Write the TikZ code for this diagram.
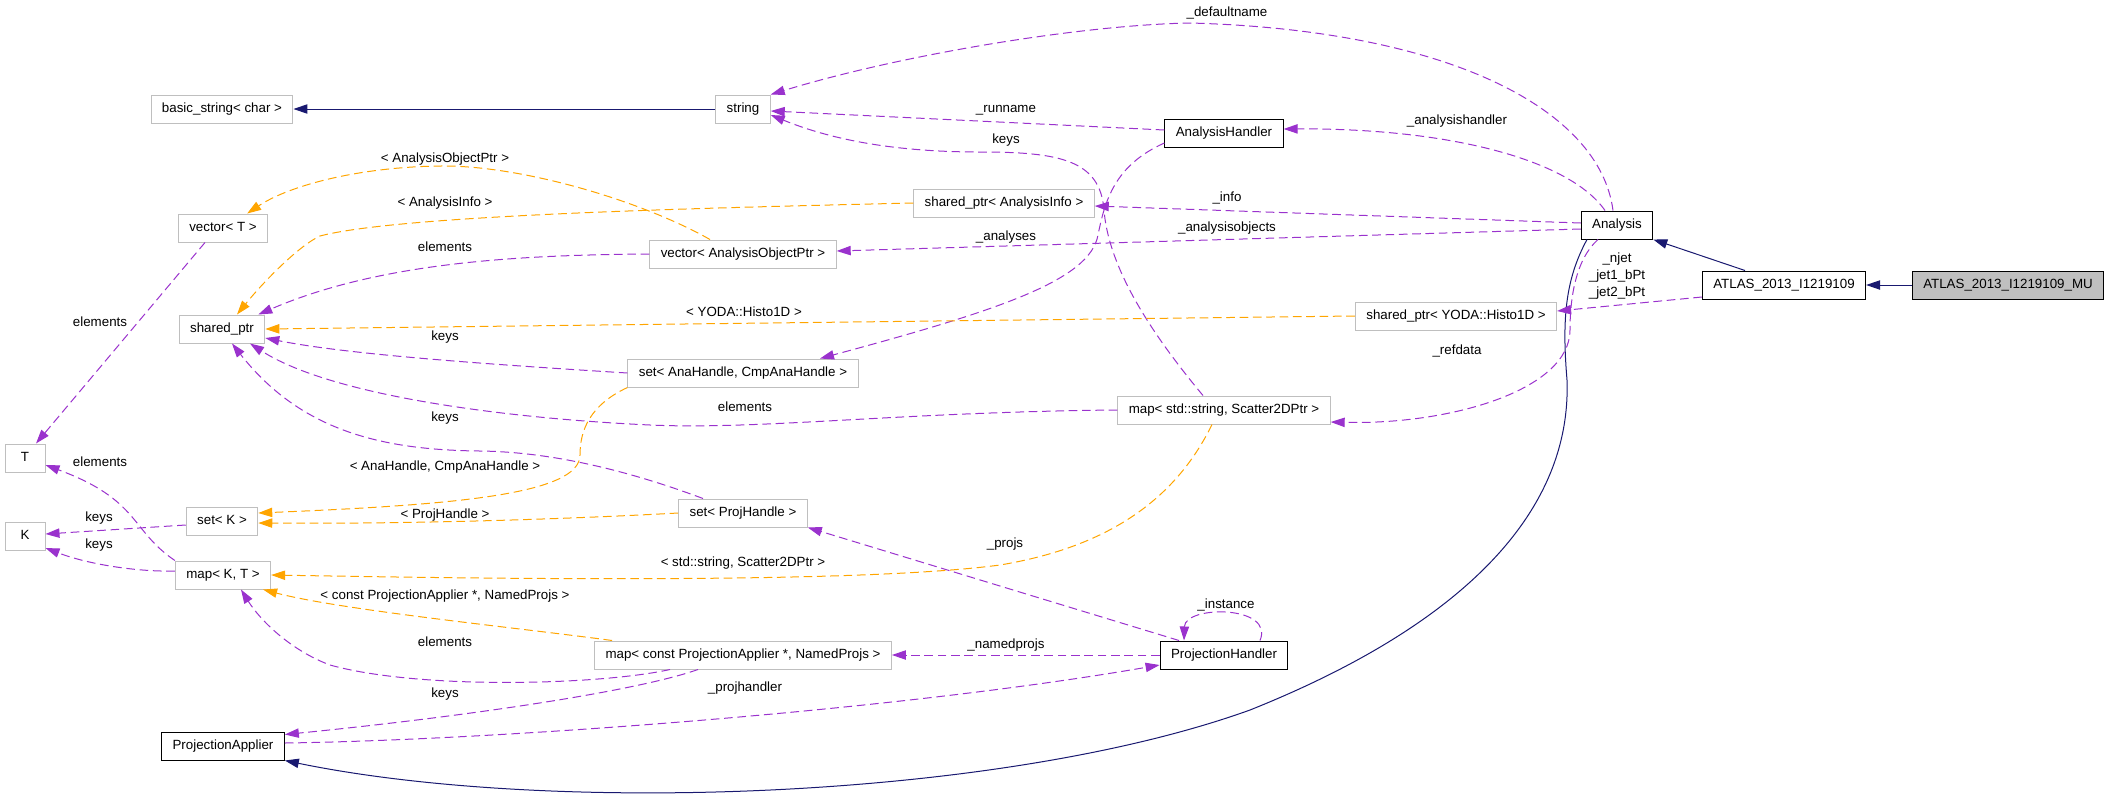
\documentclass[tikz,border=0pt]{standalone}
\usepackage{fontspec}
\setmainfont{Liberation Sans}
\usetikzlibrary{arrows.meta, calc}
\definecolor{edgepurple}{HTML}{9A32CD}
\definecolor{edgeorange}{HTML}{FFA500}
\definecolor{edgeblue}{HTML}{191970}
\definecolor{boxgrey}{HTML}{BFBFBF}
\begin{document}
\begin{tikzpicture}[x=0.75pt, y=-0.75pt,
    cls/.style={draw=boxgrey, line width=0.75pt, font=\fontsize{10}{12}\selectfont, inner xsep=8.2pt, inner ysep=0pt, minimum height=21pt, minimum width=30pt, text height=7.5pt, text depth=2.2pt},
    doc/.style={cls, draw=black},
    lbl/.style={font=\fontsize{10}{12}\selectfont, inner sep=0pt, text height=7.5pt, text depth=2.2pt},
    lblmulti/.style={font=\fontsize{10}{13}\selectfont, inner sep=0pt, align=center},
    usage/.style={draw=edgepurple, line width=0.75pt, dash pattern=on 6.5pt off 3.5pt, -{Triangle[length=10.5pt, width=7pt, fill=edgepurple]}},
    tmpl/.style={draw=edgeorange, line width=0.75pt, dash pattern=on 6.5pt off 3.5pt, -{Triangle[length=10.5pt, width=7pt, fill=edgeorange]}},
    inherit/.style={draw=edgeblue, line width=0.75pt, -{Triangle[length=10.5pt, width=7pt, fill=edgeblue]}}]
\useasboundingbox (0,0) rectangle (2107,808);

\node[cls] (basicstr) at (222,109) {basic\_string< char >};
\node[cls] (string) at (743,109) {string};
\node[cls] (vect) at (223,228) {vector< T >};
\node[cls] (shptr) at (222,329) {shared\_ptr};
\node[cls] (tcls) at (25,458) {T};
\node[cls] (kcls) at (25,536) {K};
\node[cls] (setk) at (222,521) {set< K >};
\node[cls] (mapkt) at (223,575) {map< K, T >};
\node[doc] (projapp) at (223,746) {ProjectionApplier};
\node[doc] (anahandler) at (1224,133) {AnalysisHandler};
\node[cls] (spinfo) at (1004,203) {shared\_ptr< AnalysisInfo >};
\node[cls] (vecaop) at (743,254) {vector< AnalysisObjectPtr >};
\node[cls] (setana) at (743,373) {set< AnaHandle, CmpAnaHandle >};
\node[cls] (mapstr) at (1224,410) {map< std::string, Scatter2DPtr >};
\node[cls] (setproj) at (743,513) {set< ProjHandle >};
\node[cls] (mapconst) at (743,655) {map< const ProjectionApplier *, NamedProjs >};
\node[doc] (projhandler) at (1224,655) {ProjectionHandler};
\node[doc] (analysis) at (1617,225) {Analysis};
\node[doc] (atlas) at (1784,285) {ATLAS\_2013\_I1219109};
\node[doc, fill=boxgrey] (atlasmu) at (2008,285) {ATLAS\_2013\_I1219109\_MU};
\node[cls] (sphisto) at (1456,316) {shared\_ptr< YODA::Histo1D >};

\draw[inherit] (string) -- (basicstr);
\draw[inherit] (atlasmu) -- (atlas);
\draw[inherit] ($(atlas.north)+(-39,0)$) -- (analysis.south east);
\draw[inherit] ($(analysis.south)+(-30,0)$) .. controls (1565,280) and (1562,320) .. (1567,380) .. controls (1572,520) and (1450,630) .. (1250,710) .. controls (1000,800) and (550,815) .. (projapp.south east);

\draw[usage] ($(analysis.north)+(-4,0)$) .. controls (1600,110) and (1450,30) .. (1190,23) .. controls (1080,25) and (900,55) .. (string.north east);
\node[lbl] (ldefault) at (1227,13) {\_defaultname};
\draw[usage] ($(anahandler.west)+(0,-3)$) -- ($(string.east)+(0,2)$);
\node[lbl] (lrunname) at (1006,109) {\_runname};
\draw[usage] ($(mapstr.north)+(-21,0)$) .. controls (1140,320) and (1108,260) .. (1104,210) .. controls (1100,160) and (1060,152) .. (980,152) .. controls (880,152) and (820,135) .. ($(string.east)+(0,6)$);
\node[lbl] (lkeysstr) at (1006,140) {keys};
\draw[usage] ($(analysis.north)+(-12,0)$) .. controls (1570,160) and (1450,128) .. ($(anahandler.east)+(0,-4)$);
\node[lbl] (lhandler) at (1457,121) {\_analysishandler};
\draw[usage] ($(analysis.west)+(0,-2)$) -- ($(spinfo.east)+(0,3)$);
\node[lbl] (linfo) at (1227,198) {\_info};
\draw[usage] ($(analysis.west)+(0,4)$) -- ($(vecaop.east)+(0,-3)$);
\node[lbl] (lobjects) at (1227,228) {\_analysisobjects};
\draw[usage] ($(anahandler.west)+(0,10)$) .. controls (1115,165) and (1105,200) .. (1098,235) .. controls (1090,280) and (1000,310) .. ($(setana.north)+(77,0)$);
\node[lbl] (lanalyses) at (1006,237) {\_analyses};
\draw[usage] ($(atlas.west)+(0,12)$) -- ($(sphisto.east)+(0,-5)$);
\node[lblmulti] (ljets) at (1617,276) {\_njet\\\_jet1\_bPt\\\_jet2\_bPt};
\draw[usage] ($(analysis.south)+(-19,0)$) .. controls (1575,260) and (1570,300) .. (1570,330) .. controls (1570,390) and (1450,425) .. ($(mapstr.east)+(0,12)$);
\node[lbl] (lrefdata) at (1457,351) {\_refdata};

\draw[usage] ($(vect.south)+(-18,0)$) -- ($(tcls.north)+(11,0)$);
\node[lbl] (lelemvec) at (100,323) {elements};
\draw[usage] (mapkt.north west) .. controls (130,530) and (140,500) .. ($(tcls.east)+(0,7)$);
\node[lbl] (lelemmap) at (100,463) {elements};
\draw[usage] ($(setk.west)+(0,4)$) -- ($(kcls.east)+(0,-2)$);
\node[lbl] (lkeysset) at (99,518) {keys};
\draw[usage] ($(mapkt.west)+(0,-4)$) .. controls (140,572) and (90,565) .. ($(kcls.east)+(0,12)$);
\node[lbl] (lkeysmap) at (99,545) {keys};

\draw[usage] (vecaop.west) .. controls (520,255) and (380,262) .. ($(shptr.north east)+(-7,0)$);
\node[lbl] (lelemaop) at (445,248) {elements};
\draw[usage] (setana.west) .. controls (500,365) and (350,355) .. ($(shptr.east)+(0,9)$);
\node[lbl] (lkeysana) at (445,337) {keys};
\draw[usage] (mapstr.west) .. controls (900,412) and (760,430) .. (650,425) .. controls (500,418) and (330,395) .. ($(shptr.south)+(28,0)$);
\node[lbl] (lelemstr) at (745,408) {elements};
\draw[usage] ($(setproj.north)+(-40,0)$) .. controls (640,475) and (560,452) .. (480,451) .. controls (380,450) and (300,430) .. ($(shptr.south)+(10,0)$);
\node[lbl] (lkeysproj) at (445,418) {keys};

\draw[usage] ($(projhandler.north)+(-45,0)$) -- (setproj.south east);
\node[lbl] (lprojs) at (1005,544) {\_projs};
\draw[usage] ($(projhandler.north)+(36,0)$) .. controls (1275,605) and (1185,605) .. ($(projhandler.north)+(-40,0)$);
\node[lbl] (linstance) at (1226,605) {\_instance};
\draw[usage] (projhandler.west) -- (mapconst.east);
\node[lbl] (lnamed) at (1006,645) {\_namedprojs};
\draw[usage] ($(mapconst.south)+(-73,0)$) .. controls (600,685) and (420,690) .. (330,665) .. controls (290,650) and (260,620) .. ($(mapkt.south)+(18,0)$);
\node[lbl] (lelemconst) at (445,643) {elements};
\draw[usage] ($(mapconst.south)+(-45,0)$) .. controls (640,690) and (480,715) .. ($(projapp.north east)+(0,3)$);
\node[lbl] (lkeysconst) at (445,694) {keys};
\draw[usage] ($(projapp.east)+(0,-3)$) .. controls (500,740) and (900,710) .. ($(projhandler.west)+(0,10)$);
\node[lbl] (lprojhandler) at (745,688) {\_projhandler};

\draw[tmpl] ($(vecaop.north)+(-33,0)$) .. controls (640,200) and (520,165) .. (440,166) .. controls (360,167) and (290,185) .. ($(vect.north east)+(-21,0)$);
\node[lbl] (ltaop) at (445,159) {< AnalysisObjectPtr >};
\draw[tmpl] (spinfo.west) .. controls (700,208) and (400,215) .. (320,236) .. controls (300,245) and (265,280) .. ($(shptr.north)+(15,0)$);
\node[lbl] (ltinfo) at (445,203) {< AnalysisInfo >};
\draw[tmpl] (sphisto.west) -- (shptr.east);
\node[lbl] (lthisto) at (744,313) {< YODA::Histo1D >};
\draw[tmpl] (setana.south west) .. controls (590,405) and (580,430) .. (580,455) .. controls (580,495) and (450,505) .. ($(setk.east)+(0,-8)$);
\node[lbl] (ltana) at (445,467) {< AnaHandle, CmpAnaHandle >};
\draw[tmpl] (setproj.west) .. controls (550,520) and (400,524) .. ($(setk.east)+(0,2)$);
\node[lbl] (ltproj) at (445,515) {< ProjHandle >};
\draw[tmpl] ($(mapstr.south)+(-12,0)$) .. controls (1180,490) and (1120,545) .. (1000,565) .. controls (850,585) and (450,578) .. (mapkt.east);
\node[lbl] (ltstr) at (743,563) {< std::string, Scatter2DPtr >};
\draw[tmpl] ($(mapconst.north west)+(18,0)$) .. controls (520,628) and (340,610) .. ($(mapkt.south east)+(-8,0)$);
\node[lbl] (ltconst) at (445,596) {< const ProjectionApplier *, NamedProjs >};
\end{tikzpicture}
\end{document}
